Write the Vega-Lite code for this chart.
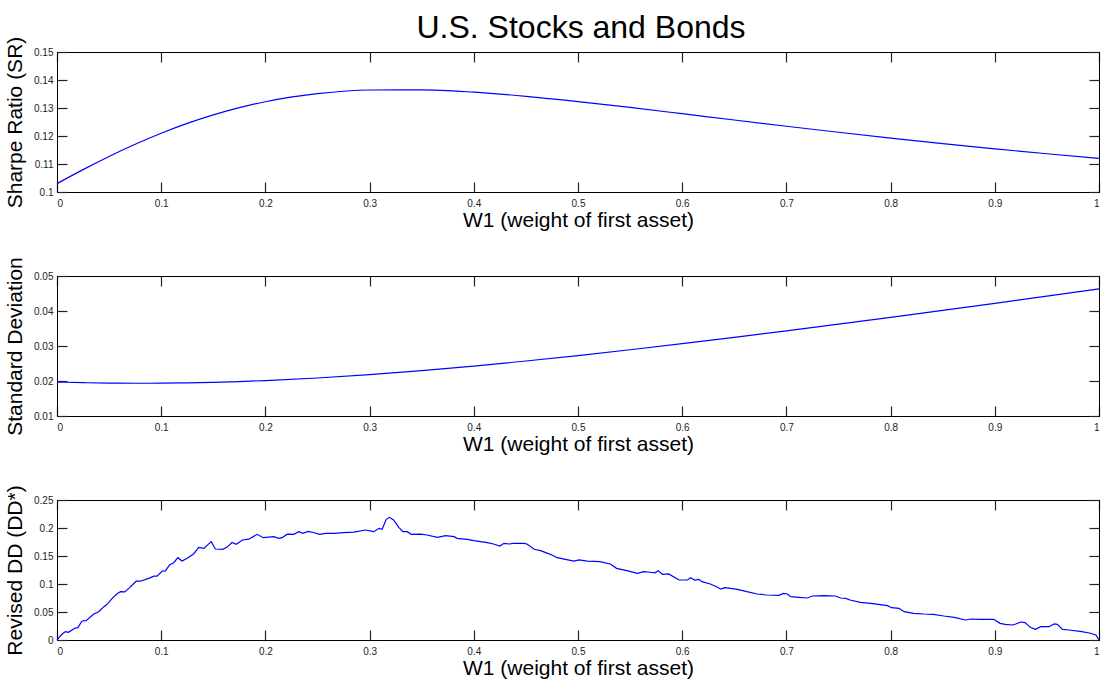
{
  "$schema": "https://vega.github.io/schema/vega-lite/v6.json",
  "padding": {"left": 4, "top": 11, "right": 5, "bottom": 0},
  "background": "white",
  "bounds": "flush",
  "spacing": 84,
  "config": {
    "font": "Liberation Sans",
    "view": {"stroke": "black", "strokeWidth": 1},
    "axis": {
      "grid": false,
      "domainColor": "black",
      "domainWidth": 1,
      "tickColor": "#222",
      "tickWidth": 1.2,
      "tickSize": -10,
      "ticks": true,
      "labelFont": "Liberation Sans",
      "labelFontSize": 10,
      "labelColor": "#222",
      "titleFont": "Liberation Sans",
      "titleFontSize": 21,
      "titleFontWeight": "normal",
      "titleColor": "black"
    },
    "axisBottom": {"labelPadding": 16, "titlePadding": 1},
    "axisLeft": {"labelPadding": 14, "titlePadding": 8}
  },
  "datasets": {
    "curves": [
      {"w": 0, "sr": 0.1030, "sd": 0.019698},
      {"w": 0.025, "sr": 0.1080, "sd": 0.019518},
      {"w": 0.05, "sr": 0.1127, "sd": 0.019404},
      {"w": 0.075, "sr": 0.11705, "sd": 0.019357},
      {"w": 0.1, "sr": 0.1210, "sd": 0.019378},
      {"w": 0.125, "sr": 0.12451, "sd": 0.019466},
      {"w": 0.15, "sr": 0.12755, "sd": 0.01962},
      {"w": 0.175, "sr": 0.13013, "sd": 0.019838},
      {"w": 0.2, "sr": 0.13223, "sd": 0.02012},
      {"w": 0.25, "sr": 0.1351, "sd": 0.02086},
      {"w": 0.3, "sr": 0.13642, "sd": 0.021815},
      {"w": 0.35, "sr": 0.1365, "sd": 0.02296},
      {"w": 0.4, "sr": 0.13566, "sd": 0.024265},
      {"w": 0.45, "sr": 0.13418, "sd": 0.025709},
      {"w": 0.5, "sr": 0.1323, "sd": 0.027267},
      {"w": 0.55, "sr": 0.13019, "sd": 0.028923},
      {"w": 0.6, "sr": 0.12796, "sd": 0.030659},
      {"w": 0.65, "sr": 0.12571, "sd": 0.032464},
      {"w": 0.7, "sr": 0.12349, "sd": 0.034326},
      {"w": 0.75, "sr": 0.12133, "sd": 0.036237},
      {"w": 0.8, "sr": 0.11926, "sd": 0.038189},
      {"w": 0.85, "sr": 0.11729, "sd": 0.040176},
      {"w": 0.9, "sr": 0.11543, "sd": 0.042194},
      {"w": 0.95, "sr": 0.11366, "sd": 0.044237},
      {"w": 1, "sr": 0.1120, "sd": 0.046303}
    ],
    "dd": [
      {"w": 0, "dd": 0}, {"w": 0.004, "dd": 0.009}, {"w": 0.008, "dd": 0.015}, {"w": 0.011, "dd": 0.0137},
      {"w": 0.017, "dd": 0.021}, {"w": 0.02, "dd": 0.022}, {"w": 0.024, "dd": 0.034}, {"w": 0.028, "dd": 0.0345},
      {"w": 0.035, "dd": 0.046}, {"w": 0.04, "dd": 0.0506}, {"w": 0.045, "dd": 0.0595}, {"w": 0.048, "dd": 0.0637},
      {"w": 0.053, "dd": 0.0744}, {"w": 0.058, "dd": 0.083}, {"w": 0.061, "dd": 0.0863}, {"w": 0.065, "dd": 0.086},
      {"w": 0.07, "dd": 0.094}, {"w": 0.076, "dd": 0.105}, {"w": 0.08, "dd": 0.105}, {"w": 0.088, "dd": 0.11},
      {"w": 0.093, "dd": 0.114}, {"w": 0.096, "dd": 0.114}, {"w": 0.101, "dd": 0.123}, {"w": 0.104, "dd": 0.1235},
      {"w": 0.108, "dd": 0.134}, {"w": 0.112, "dd": 0.138}, {"w": 0.116, "dd": 0.147}, {"w": 0.12, "dd": 0.141},
      {"w": 0.125, "dd": 0.146}, {"w": 0.131, "dd": 0.1536}, {"w": 0.136, "dd": 0.1655}, {"w": 0.141, "dd": 0.1637},
      {"w": 0.148, "dd": 0.1756}, {"w": 0.152, "dd": 0.1625}, {"w": 0.159, "dd": 0.162}, {"w": 0.163, "dd": 0.1655},
      {"w": 0.168, "dd": 0.174}, {"w": 0.172, "dd": 0.171}, {"w": 0.178, "dd": 0.1786}, {"w": 0.184, "dd": 0.18},
      {"w": 0.192, "dd": 0.1887}, {"w": 0.198, "dd": 0.1827}, {"w": 0.208, "dd": 0.1845}, {"w": 0.213, "dd": 0.1816},
      {"w": 0.216, "dd": 0.1827}, {"w": 0.221, "dd": 0.189}, {"w": 0.227, "dd": 0.1887}, {"w": 0.232, "dd": 0.1934},
      {"w": 0.236, "dd": 0.1905}, {"w": 0.241, "dd": 0.194}, {"w": 0.246, "dd": 0.192}, {"w": 0.252, "dd": 0.1887},
      {"w": 0.258, "dd": 0.1905}, {"w": 0.266, "dd": 0.1905}, {"w": 0.275, "dd": 0.1917}, {"w": 0.285, "dd": 0.1925},
      {"w": 0.296, "dd": 0.1964}, {"w": 0.304, "dd": 0.1934}, {"w": 0.309, "dd": 0.1994}, {"w": 0.312, "dd": 0.1976},
      {"w": 0.316, "dd": 0.2155}, {"w": 0.319, "dd": 0.219}, {"w": 0.323, "dd": 0.2143}, {"w": 0.328, "dd": 0.2012},
      {"w": 0.332, "dd": 0.1934}, {"w": 0.336, "dd": 0.1934}, {"w": 0.34, "dd": 0.1887}, {"w": 0.349, "dd": 0.189},
      {"w": 0.355, "dd": 0.1875}, {"w": 0.365, "dd": 0.1834}, {"w": 0.373, "dd": 0.1864}, {"w": 0.381, "dd": 0.1845},
      {"w": 0.384, "dd": 0.1816}, {"w": 0.394, "dd": 0.1798}, {"w": 0.4, "dd": 0.1774}, {"w": 0.413, "dd": 0.1738},
      {"w": 0.419, "dd": 0.1714}, {"w": 0.425, "dd": 0.1679}, {"w": 0.429, "dd": 0.1726}, {"w": 0.434, "dd": 0.1714},
      {"w": 0.438, "dd": 0.1726}, {"w": 0.448, "dd": 0.1726}, {"w": 0.451, "dd": 0.1714}, {"w": 0.458, "dd": 0.162},
      {"w": 0.464, "dd": 0.1595}, {"w": 0.469, "dd": 0.156}, {"w": 0.475, "dd": 0.1518}, {"w": 0.48, "dd": 0.147},
      {"w": 0.488, "dd": 0.1441}, {"w": 0.496, "dd": 0.141}, {"w": 0.501, "dd": 0.1429}, {"w": 0.509, "dd": 0.141},
      {"w": 0.521, "dd": 0.1399}, {"w": 0.531, "dd": 0.1357}, {"w": 0.537, "dd": 0.128}, {"w": 0.547, "dd": 0.1238},
      {"w": 0.557, "dd": 0.119}, {"w": 0.563, "dd": 0.122}, {"w": 0.569, "dd": 0.121}, {"w": 0.574, "dd": 0.12},
      {"w": 0.577, "dd": 0.1238}, {"w": 0.581, "dd": 0.1173}, {"w": 0.587, "dd": 0.118}, {"w": 0.597, "dd": 0.1071},
      {"w": 0.605, "dd": 0.1071}, {"w": 0.608, "dd": 0.1113}, {"w": 0.612, "dd": 0.1071}, {"w": 0.616, "dd": 0.1084},
      {"w": 0.619, "dd": 0.1042}, {"w": 0.627, "dd": 0.1}, {"w": 0.633, "dd": 0.0952}, {"w": 0.637, "dd": 0.0908},
      {"w": 0.641, "dd": 0.0934}, {"w": 0.653, "dd": 0.0905}, {"w": 0.662, "dd": 0.0863}, {"w": 0.672, "dd": 0.0821},
      {"w": 0.681, "dd": 0.0804}, {"w": 0.693, "dd": 0.0798}, {"w": 0.697, "dd": 0.0833}, {"w": 0.701, "dd": 0.0821},
      {"w": 0.704, "dd": 0.0774}, {"w": 0.712, "dd": 0.0762}, {"w": 0.72, "dd": 0.075}, {"w": 0.725, "dd": 0.0786},
      {"w": 0.736, "dd": 0.0792}, {"w": 0.747, "dd": 0.0786}, {"w": 0.752, "dd": 0.075}, {"w": 0.757, "dd": 0.0744},
      {"w": 0.761, "dd": 0.0714}, {"w": 0.771, "dd": 0.0673}, {"w": 0.781, "dd": 0.0655}, {"w": 0.797, "dd": 0.0613},
      {"w": 0.801, "dd": 0.0577}, {"w": 0.808, "dd": 0.0565}, {"w": 0.813, "dd": 0.0506}, {"w": 0.822, "dd": 0.0476},
      {"w": 0.832, "dd": 0.0464}, {"w": 0.841, "dd": 0.0458}, {"w": 0.851, "dd": 0.0429}, {"w": 0.861, "dd": 0.0405},
      {"w": 0.872, "dd": 0.0357}, {"w": 0.877, "dd": 0.0375}, {"w": 0.886, "dd": 0.0369}, {"w": 0.899, "dd": 0.0369},
      {"w": 0.905, "dd": 0.0298}, {"w": 0.91, "dd": 0.028}, {"w": 0.917, "dd": 0.0268}, {"w": 0.92, "dd": 0.0286},
      {"w": 0.925, "dd": 0.0321}, {"w": 0.929, "dd": 0.031}, {"w": 0.934, "dd": 0.0226}, {"w": 0.939, "dd": 0.019},
      {"w": 0.944, "dd": 0.0238}, {"w": 0.952, "dd": 0.0238}, {"w": 0.957, "dd": 0.0286}, {"w": 0.96, "dd": 0.028},
      {"w": 0.965, "dd": 0.019}, {"w": 0.971, "dd": 0.0179}, {"w": 0.982, "dd": 0.0155}, {"w": 0.992, "dd": 0.012},
      {"w": 0.997, "dd": 0.009}, {"w": 1, "dd": 0}
    ]
  },
  "vconcat": [
    {
      "title": {"text": "U.S. Stocks and Bonds", "fontSize": 32, "fontWeight": "normal", "font": "Liberation Sans", "frame": "group", "anchor": "middle", "offset": -9, "dx": 3, "color": "black"},
      "width": 1042, "height": 140,
      "data": {"name": "curves"},
      "layer": [
        {
          "mark": {"type": "line", "color": "#0000ff", "strokeWidth": 1.2, "interpolate": "monotone"},
          "encoding": {
            "x": {"field": "w", "type": "quantitative", "scale": {"domain": [0, 1], "nice": false, "zero": false},
                  "axis": {"orient": "bottom", "title": "W1 (weight of first asset)", "values": [0, 0.1, 0.2, 0.3, 0.4, 0.5, 0.6, 0.7, 0.8, 0.9, 1], "format": "~g"}},
            "y": {"field": "sr", "type": "quantitative", "scale": {"domain": [0.1, 0.15], "nice": false, "zero": false},
                  "axis": {"orient": "left", "title": "Sharpe Ratio (SR)", "values": [0.1, 0.11, 0.12, 0.13, 0.14, 0.15], "format": "~g"}}
          }
        },
        {
          "mark": {"type": "line", "opacity": 0},
          "encoding": {
            "x": {"field": "w", "type": "quantitative", "axis": {"orient": "top", "title": null, "labels": false, "values": [0, 0.1, 0.2, 0.3, 0.4, 0.5, 0.6, 0.7, 0.8, 0.9, 1]}},
            "y": {"field": "sr", "type": "quantitative", "axis": {"orient": "right", "title": null, "labels": false, "values": [0.1, 0.11, 0.12, 0.13, 0.14, 0.15]}}
          }
        }
      ],
      "resolve": {"axis": {"x": "independent", "y": "independent"}}
    },
    {
      "width": 1042, "height": 140,
      "data": {"name": "curves"},
      "layer": [
        {
          "mark": {"type": "line", "color": "#0000ff", "strokeWidth": 1.2, "interpolate": "monotone"},
          "encoding": {
            "x": {"field": "w", "type": "quantitative", "scale": {"domain": [0, 1], "nice": false, "zero": false},
                  "axis": {"orient": "bottom", "title": "W1 (weight of first asset)", "values": [0, 0.1, 0.2, 0.3, 0.4, 0.5, 0.6, 0.7, 0.8, 0.9, 1], "format": "~g"}},
            "y": {"field": "sd", "type": "quantitative", "scale": {"domain": [0.01, 0.05], "nice": false, "zero": false},
                  "axis": {"orient": "left", "title": "Standard Deviation", "values": [0.01, 0.02, 0.03, 0.04, 0.05], "format": "~g"}}
          }
        },
        {
          "mark": {"type": "line", "opacity": 0},
          "encoding": {
            "x": {"field": "w", "type": "quantitative", "axis": {"orient": "top", "title": null, "labels": false, "values": [0, 0.1, 0.2, 0.3, 0.4, 0.5, 0.6, 0.7, 0.8, 0.9, 1]}},
            "y": {"field": "sd", "type": "quantitative", "axis": {"orient": "right", "title": null, "labels": false, "values": [0.01, 0.02, 0.03, 0.04, 0.05]}}
          }
        }
      ],
      "resolve": {"axis": {"x": "independent", "y": "independent"}}
    },
    {
      "width": 1042, "height": 140,
      "data": {"name": "dd"},
      "layer": [
        {
          "mark": {"type": "line", "color": "#0000ff", "strokeWidth": 1.2},
          "encoding": {
            "x": {"field": "w", "type": "quantitative", "scale": {"domain": [0, 1], "nice": false, "zero": false},
                  "axis": {"orient": "bottom", "title": "W1 (weight of first asset)", "values": [0, 0.1, 0.2, 0.3, 0.4, 0.5, 0.6, 0.7, 0.8, 0.9, 1], "format": "~g"}},
            "y": {"field": "dd", "type": "quantitative", "scale": {"domain": [0, 0.25], "nice": false, "zero": false},
                  "axis": {"orient": "left", "title": "Revised DD (DD*)", "values": [0, 0.05, 0.1, 0.15, 0.2, 0.25], "format": "~g"}}
          }
        },
        {
          "mark": {"type": "line", "opacity": 0},
          "encoding": {
            "x": {"field": "w", "type": "quantitative", "axis": {"orient": "top", "title": null, "labels": false, "values": [0, 0.1, 0.2, 0.3, 0.4, 0.5, 0.6, 0.7, 0.8, 0.9, 1]}},
            "y": {"field": "dd", "type": "quantitative", "axis": {"orient": "right", "title": null, "labels": false, "values": [0, 0.05, 0.1, 0.15, 0.2, 0.25]}}
          }
        }
      ],
      "resolve": {"axis": {"x": "independent", "y": "independent"}}
    }
  ]
}
